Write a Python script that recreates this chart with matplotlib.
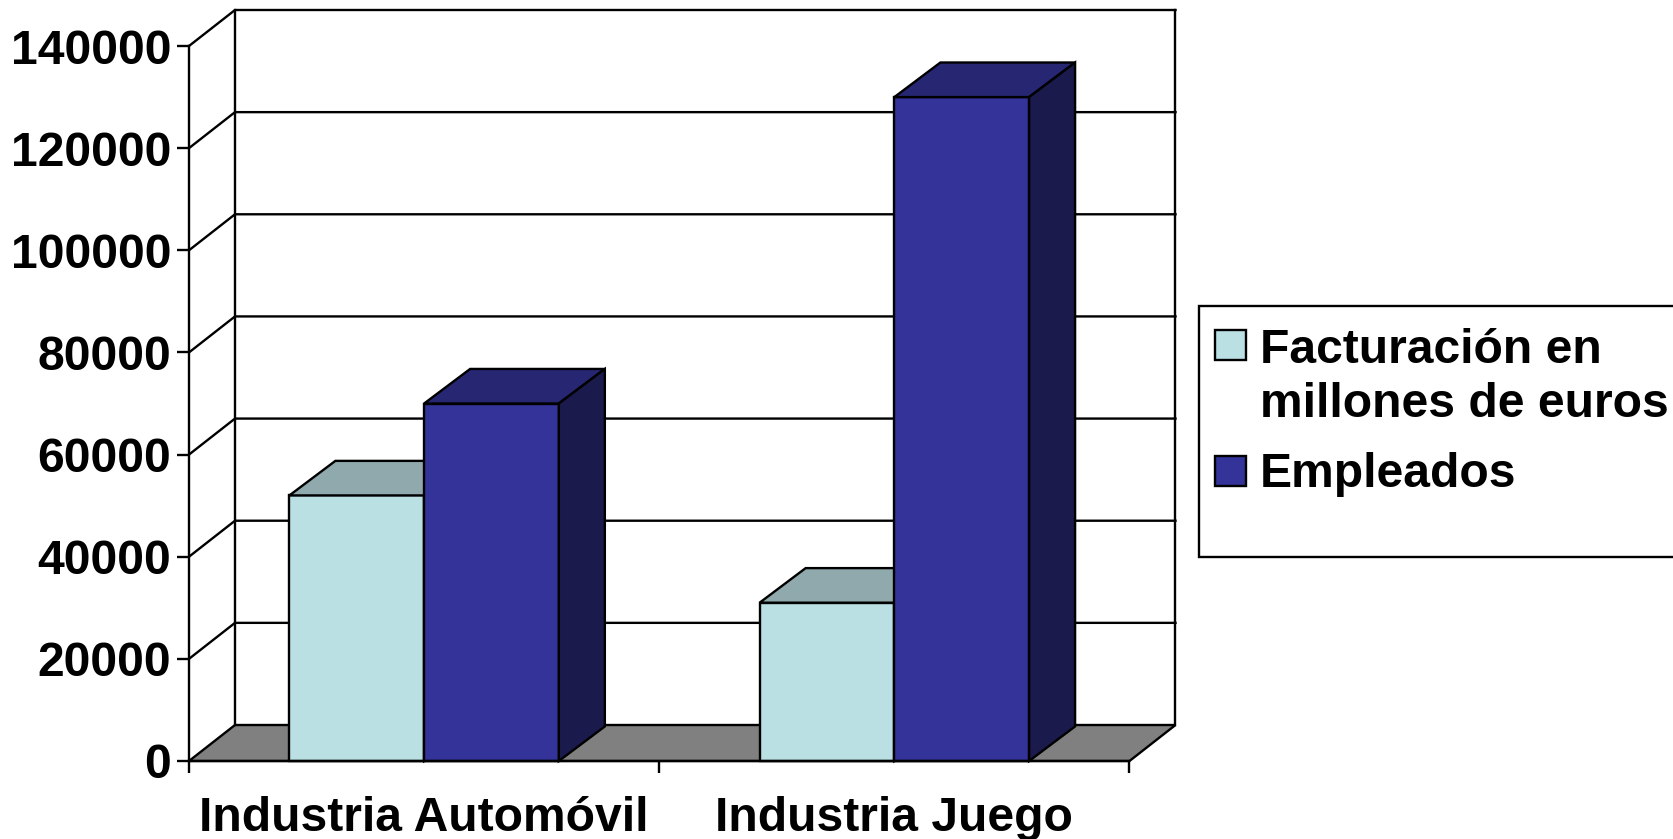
# coding:utf-8

import numpy as np
import matplotlib
matplotlib.use("Agg")
import matplotlib.pyplot as plt
from matplotlib.patches import Polygon, Rectangle

plt.rcParams["font.family"] = ["Liberation Sans", "DejaVu Sans"]
plt.rcParams["font.weight"] = "bold"
plt.rcParams["font.size"] = 34.6

categories = ["Industria Automóvil", "Industria Juego"]
series_names = ["Facturación en\nmillones de euros", "Empleados"]
facturacion = [52000, 31000]
empleados = [70000, 130000]
y_ticks = [0, 20000, 40000, 60000, 80000, 100000, 120000, 140000]

LIGHT = ("#BAE0E3", "#8FA9AC", "#5D7072")
DARK = ("#333399", "#262673", "#1A1A4D")
LW = 1.7
W, H = 1674, 839


def bar3d(ax, x, width, value, cols, dx, dy):
    ax.bar(x, value, width, align="edge", color=cols[0], edgecolor="k", lw=LW, zorder=3, clip_on=False)
    top = [(x, value), (x + dx, value + dy), (x + width + dx, value + dy), (x + width, value)]
    side = [(x + width, 0), (x + width + dx, dy), (x + width + dx, value + dy), (x + width, value)]
    ax.add_patch(Polygon(top, fc=cols[1], ec="k", lw=LW, zorder=3, clip_on=False))
    ax.add_patch(Polygon(side, fc=cols[2], ec="k", lw=LW, zorder=3, clip_on=False))


def draw_chart():
    fig = plt.figure(figsize=(W / 100, H / 100), dpi=100)
    ax = fig.add_axes([189 / W, (H - 761) / H, 940.5 / W, 715 / H])
    ax.set_xlim(0, 2)
    ax.set_ylim(0, 140000)

    # profundidad del efecto 3D en unidades de datos
    dx = 46 / 470.25
    dy = 36 / 715 * 140000

    # suelo y paredes
    ax.add_patch(Polygon([(0, 0), (dx, dy), (2 + dx, dy), (2, 0)], fc="#808080", ec="k", lw=LW,
                         zorder=1, clip_on=False))
    for v in y_ticks[1:]:
        ax.plot([0, dx, 2 + dx], [v, v + dy, v + dy], color="k", lw=LW, zorder=1, clip_on=False)
    ax.plot([dx, dx], [dy, 140000 + dy], color="k", lw=LW, zorder=1, clip_on=False)
    ax.plot([2 + dx, 2 + dx], [dy, 140000 + dy], color="k", lw=LW, zorder=1, clip_on=False)

    # barras
    width = 0.2865
    for i in range(len(categories)):
        left = i + 0.5 - width
        bar3d(ax, left, width, facturacion[i], LIGHT, dx, dy * 0.96)
        bar3d(ax, left + width, width, empleados[i], DARK, dx, dy * 0.96)

    for s in ["top", "right"]:
        ax.spines[s].set_visible(False)
    ax.spines["left"].set_linewidth(LW)
    ax.spines["bottom"].set_linewidth(LW)
    ax.spines["bottom"].set_zorder(4)

    ax.set_yticks(y_ticks)
    ax.set_yticklabels([str(v) for v in y_ticks])
    ax.tick_params(axis="y", length=8.6, width=LW, pad=4.2)
    ax.set_xticks([0, 1, 2])
    ax.set_xticklabels([])
    ax.set_xticks([0.5, 1.5], minor=True)
    ax.set_xticklabels(categories, minor=True)
    ax.tick_params(axis="x", which="major", length=8.6, width=LW)
    ax.tick_params(axis="x", which="minor", length=0, pad=25)

    # leyenda
    fig.add_artist(Rectangle((1199 / W, 1 - 557 / H), 500 / W, 251 / H, fc="w", ec="k", lw=LW,
                             transform=fig.transFigure))
    for (y0, col) in [(330, LIGHT[0]), (456, DARK[0])]:
        fig.add_artist(Rectangle((1215 / W, 1 - (y0 + 30) / H), 31 / W, 30 / H, fc=col, ec="k", lw=LW,
                                 transform=fig.transFigure))
    fig.text(1260 / W, 1 - 417 / H, series_names[0], ha="left", va="baseline", linespacing=1.25)
    fig.text(1260 / W, 1 - 487 / H, series_names[1], ha="left", va="baseline")

    fig.savefig("out.png", dpi=100, facecolor="w")


if __name__ == "__main__":
    draw_chart()
